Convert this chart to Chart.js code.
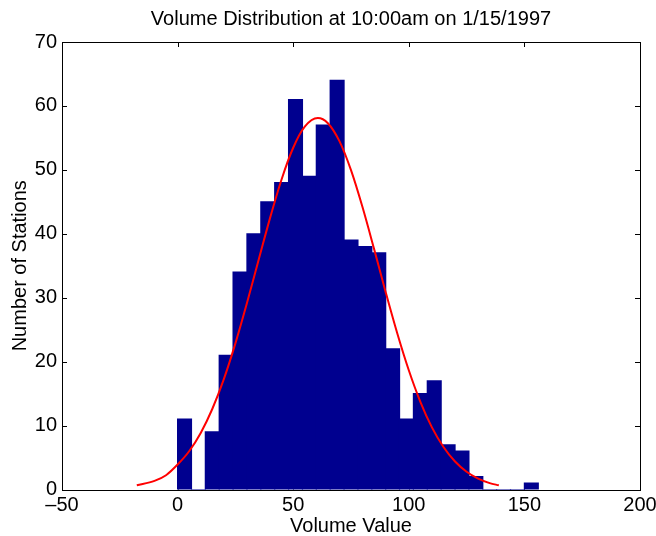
<!DOCTYPE html>
<html>
<head>
<meta charset="utf-8">
<script src="https://cdn.jsdelivr.net/npm/chart.js@4.4.1/dist/chart.umd.min.js"></script>
<style>
  html, body { margin: 0; padding: 0; background: #ffffff; }
  #wrap { width: 656px; height: 536px; position: relative; }
</style>
</head>
<body>
<div id="wrap"><canvas id="c" width="656" height="536"></canvas></div>
<script>
// Histogram bins (centers of 6-unit wide bins) and station counts
const binCenters = [3, 9, 15, 21, 27, 33, 39, 45, 51, 57, 63, 69, 75, 81, 87, 93, 99, 105, 111, 117, 123, 129, 135, 141, 147, 153];
const stationCounts = [11, 0, 9, 21, 34, 40, 45, 48, 61, 49, 57, 64, 39, 38, 37, 22, 11, 15, 17, 7, 6, 2, 0, 0, 0, 1];

// Fitted normal curve
const fitX = [-17.65, -10, -5, 0, 5, 10, 15, 20, 25, 30, 35, 40, 45, 50, 55, 60.65, 65, 70, 75, 80, 85, 90, 95, 100, 105, 110, 115, 120, 125, 130, 135, 138.95];
const fitY = [0.65, 1.34, 2.23, 3.90, 5.98, 8.84, 12.59, 17.27, 22.86, 29.16, 35.85, 42.49, 48.54, 53.46, 56.75, 58.1, 57.30, 54.49, 49.95, 44.14, 37.60, 30.87, 24.44, 18.65, 13.72, 9.72, 6.65, 4.38, 2.78, 1.70, 1.00, 0.65];

// Axis ticks
const xTicks = [-50, 0, 50, 100, 150, 200];
const yTicks = [0, 10, 20, 30, 40, 50, 60, 70];

const titleText = 'Volume Distribution at 10:00am on 1/15/1997';
const xTitle = 'Volume Value';
const yTitle = 'Number of Stations';

const FONT = "'Liberation Sans', Arial, Helvetica, sans-serif";
const FS = 20;

const barData = binCenters.map((x, i) => ({ x: x, y: stationCounts[i] }));
const lineData = fitX.map((x, i) => ({ x: x, y: fitY[i] }));

const matlabAxes = {
  id: 'matlabAxes',
  beforeDatasetsDraw(chart) {
    const { ctx, chartArea: a, scales: { x, y } } = chart;
    const len = 5;
    ctx.save();
    ctx.strokeStyle = '#000';
    ctx.lineWidth = 1;
    ctx.beginPath();
    xTicks.forEach(v => {
      const px = Math.round(x.getPixelForValue(v)) + 0.5;
      ctx.moveTo(px, a.bottom); ctx.lineTo(px, a.bottom - len);
      ctx.moveTo(px, a.top); ctx.lineTo(px, a.top + len);
    });
    yTicks.forEach(v => {
      const py = Math.round(y.getPixelForValue(v)) + 0.5;
      ctx.moveTo(a.left, py); ctx.lineTo(a.left + len, py);
      ctx.moveTo(a.right, py); ctx.lineTo(a.right - len, py);
    });
    ctx.stroke();
    ctx.restore();
  },
  afterDatasetsDraw(chart) {
    const { ctx, chartArea: a } = chart;
    ctx.save();
    ctx.strokeStyle = '#000';
    ctx.lineWidth = 1;
    ctx.strokeRect(Math.round(a.left) + 0.5, Math.round(a.top) + 0.5,
                   Math.round(a.right) - Math.round(a.left), Math.round(a.bottom) - Math.round(a.top));
    ctx.restore();
  }
};

new Chart(document.getElementById('c'), {
  type: 'bar',
  data: {
    datasets: [
      {
        type: 'line',
        data: lineData,
        borderColor: 'rgb(255,0,0)',
        borderWidth: 2,
        pointRadius: 0,
        fill: false,
        cubicInterpolationMode: 'monotone',
        order: 0
      },
      {
        type: 'bar',
        data: barData,
        backgroundColor: 'rgb(0,0,143)',
        borderWidth: 0,
        inflateAmount: 0.6,
        barPercentage: 1.0,
        categoryPercentage: 1.0,
        grouped: false,
        order: 1
      }
    ]
  },
  options: {
    responsive: false,
    animation: false,
    devicePixelRatio: 1,
    layout: { padding: { left: 0, right: 16, top: 0, bottom: 0 } },
    plugins: {
      legend: { display: false },
      tooltip: { enabled: false },
      title: {
        display: true,
        fullSize: false,
        text: titleText,
        color: '#000',
        font: { family: FONT, size: FS, weight: 'normal', lineHeight: 1.2 },
        padding: { top: 7.8, bottom: 10.2 }
      }
    },
    scales: {
      x: {
        type: 'linear',
        min: -50, max: 200,
        offset: false,
        afterBuildTicks(scale) { scale.ticks = xTicks.map(v => ({ value: v })); },
        afterFit(scale) { scale.height = 46.5; scale.paddingRight = 0; scale.paddingLeft = 0; },
        grid: { display: false, drawTicks: false },
        border: { display: false },
        ticks: {
          color: '#000',
          padding: 4,
          maxRotation: 0,
          font: { family: FONT, size: FS },
          callback: v => (v < 0 ? '\u2013' + Math.abs(v) : String(v))
        },
        title: {
          display: true,
          text: xTitle,
          color: '#000',
          font: { family: FONT, size: FS, lineHeight: 1.0 },
          padding: { top: 0, bottom: 0 }
        }
      },
      y: {
        type: 'linear',
        min: 0, max: 70,
        afterBuildTicks(scale) { scale.ticks = yTicks.map(v => ({ value: v })); },
        afterFit(scale) { scale.width = 62; },
        grid: { display: false, drawTicks: false },
        border: { display: false },
        ticks: {
          color: '#000',
          padding: 5,
          font: { family: FONT, size: FS }
        },
        title: {
          display: true,
          text: yTitle,
          color: '#000',
          font: { family: FONT, size: FS, lineHeight: 1.2 },
          padding: { top: 8.4, bottom: 0 }
        }
      }
    }
  },
  plugins: [matlabAxes]
});
</script>
</body>
</html>
